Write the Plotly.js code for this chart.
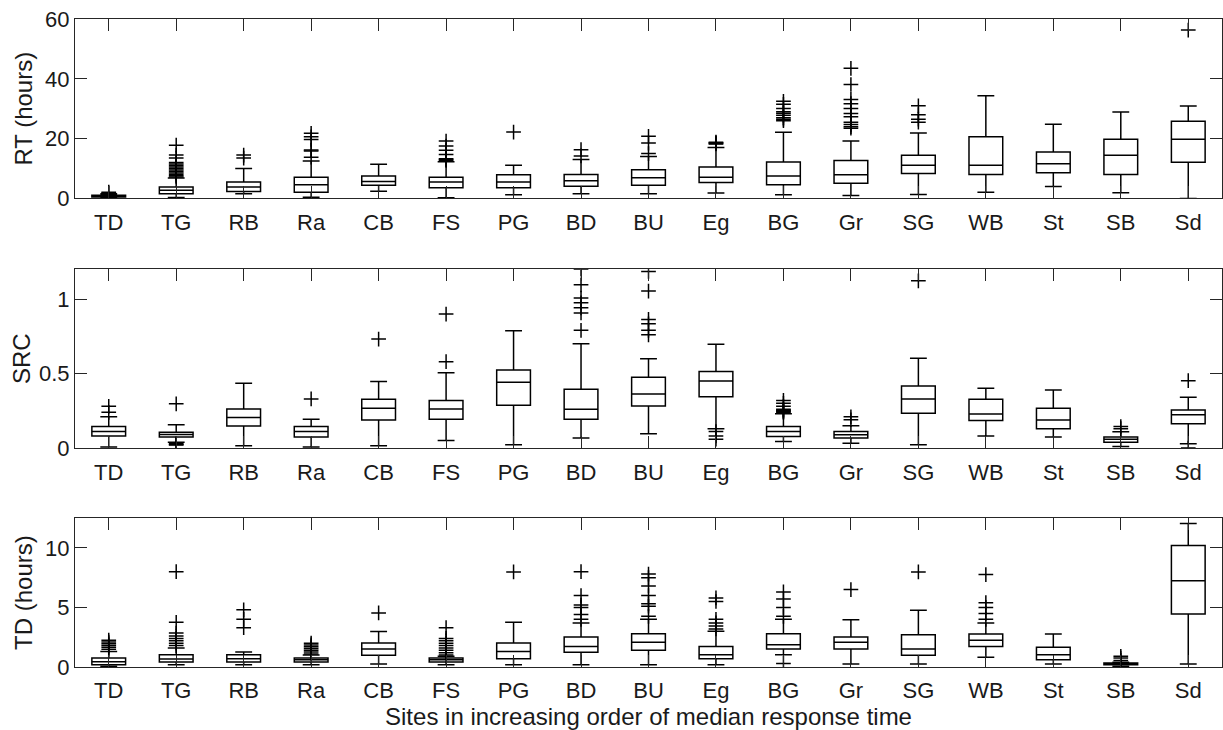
<!DOCTYPE html>
<html>
<head>
<meta charset="utf-8">
<script src="https://cdn.plot.ly/plotly-3.0.1.min.js"></script>
<style>html,body{margin:0;padding:0;background:#fff;}#chart{width:1223px;height:730px;}</style>
</head>
<body>
<div id="chart"></div>
<script>
var sites = ['TD','TG','RB','Ra','CB','FS','PG','BD','BU','Eg','BG','Gr','SG','WB','St','SB','Sd'];

// Panel 1: RT (hours)
var rtLo  = [0.1, 0.3, 1.6, 0.4, 2.4, 0.2, 1.2, 1.6, 1.6, 1.8, 1.2, 1.0, 1.3, 2.1, 4.0, 1.9, 0.0];
var rtQ1  = [0.5, 1.6, 2.3, 2.1, 4.4, 3.6, 3.6, 4.1, 4.4, 5.3, 4.6, 5.1, 8.3, 8.0, 8.6, 8.0, 12.1];
var rtMed = [0.8, 2.7, 3.8, 4.6, 5.7, 5.5, 5.5, 5.9, 6.9, 7.1, 7.5, 7.9, 11.1, 11.1, 11.6, 14.4, 19.8];
var rtQ3  = [1.1, 3.8, 5.5, 7.1, 7.5, 7.1, 7.9, 8.0, 9.6, 10.5, 12.2, 12.7, 14.4, 20.6, 15.5, 19.8, 25.8];
var rtHi  = [1.6, 6.8, 10.0, 12.5, 11.4, 12.3, 11.1, 13.0, 14.0, 17.0, 22.1, 19.2, 21.9, 34.3, 24.8, 28.9, 30.9];
var rtOut = [
  [1.8, 2.1],
  [7.2, 7.6, 8.0, 8.5, 9.0, 9.5, 10.0, 10.5, 11.0, 11.5, 12.0, 13.5, 14.5, 17.8],
  [13.5, 14.5],
  [13.8, 15.9, 16.2, 19.7, 20.6, 21.8],
  [],
  [12.7, 13.0, 13.3, 14.7, 16.1, 17.5, 19.2],
  [22.2],
  [14.2, 16.3],
  [15.0, 18.5, 20.8],
  [18.2, 18.4, 18.6, 18.8],
  [26.0, 26.5, 27.0, 27.8, 28.5, 29.0, 30.1, 31.5, 32.5],
  [23.5, 24.0, 24.7, 25.5, 27.3, 28.4, 30.1, 31.7, 33.1, 38.1, 43.5],
  [25.5, 26.5, 28.0, 31.0],
  [], [], [],
  [56.3]
];

// Panel 2: SRC
var srcLo  = [0.007, 0.04, 0.015, 0.007, 0.015, 0.051, 0.022, 0.067, 0.096, 0.13, 0.044, 0.033, 0.022, 0.082, 0.074, 0.011, 0.03];
var srcQ1  = [0.082, 0.074, 0.149, 0.074, 0.189, 0.194, 0.288, 0.194, 0.283, 0.345, 0.078, 0.067, 0.234, 0.185, 0.129, 0.04, 0.163];
var srcMed = [0.111, 0.091, 0.205, 0.111, 0.268, 0.263, 0.442, 0.261, 0.363, 0.45, 0.111, 0.089, 0.33, 0.228, 0.189, 0.06, 0.223];
var srcQ3  = [0.145, 0.107, 0.263, 0.145, 0.328, 0.319, 0.524, 0.395, 0.475, 0.513, 0.145, 0.111, 0.417, 0.328, 0.268, 0.074, 0.256];
var srcHi  = [0.21, 0.156, 0.435, 0.194, 0.446, 0.506, 0.787, 0.70, 0.6, 0.696, 0.23, 0.15, 0.602, 0.401, 0.39, 0.11, 0.341];
var srcOut = [
  [0.24, 0.28],
  [0.02, 0.025, 0.03, 0.297],
  [],
  [0.33],
  [0.731],
  [0.58, 0.899],
  [],
  [0.79, 0.906, 0.941, 0.975, 1.006, 1.095, 1.2],
  [0.76, 0.79, 0.834, 0.863, 1.053, 1.185],
  [0.06, 0.082, 0.111],
  [0.24, 0.245, 0.25, 0.255, 0.26, 0.28, 0.30, 0.32],
  [0.19, 0.21],
  [1.122],
  [], [],
  [0.13, 0.145],
  [0.0, 0.452]
];

// Panel 3: TD (hours)
var tdLo  = [0.05, 0.19, 0.19, 0.19, 0.25, 0.19, 0.19, 0.19, 0.19, 0.19, 1.03, 0.25, 0.25, 0.81, 0.25, 0.05, 0.25];
var tdQ1  = [0.19, 0.42, 0.42, 0.42, 0.98, 0.42, 0.70, 1.23, 1.40, 0.70, 1.51, 1.51, 0.98, 1.73, 0.61, 0.19, 4.45];
var tdMed = [0.45, 0.67, 0.70, 0.61, 1.51, 0.61, 1.31, 1.73, 2.07, 1.03, 1.87, 2.07, 1.51, 2.24, 1.03, 0.25, 7.25];
var tdQ3  = [0.76, 1.03, 1.03, 0.76, 2.02, 0.76, 2.02, 2.52, 2.80, 1.73, 2.80, 2.52, 2.71, 2.77, 1.65, 0.34, 10.19];
var tdHi  = [1.3, 1.6, 1.26, 1.0, 2.99, 0.9, 3.75, 3.7, 4.0, 3.0, 4.0, 3.97, 4.76, 3.7, 2.77, 0.4, 12.04];
var tdOut = [
  [1.5, 1.65, 1.8, 1.95, 2.1, 2.25],
  [1.8, 2.0, 2.2, 2.4, 2.6, 2.85, 3.75, 8.0],
  [3.3, 4.0, 4.8],
  [1.1, 1.25, 1.4, 1.55, 1.7, 1.85, 2.0],
  [4.54],
  [1.0, 1.2, 1.4, 1.6, 1.8, 2.0, 2.2, 2.4, 3.3],
  [7.98],
  [4.0, 4.4, 5.0, 5.2, 6.0, 8.0],
  [4.25, 5.1, 5.3, 6.0, 6.8, 7.5, 7.8],
  [3.2, 3.45, 3.7, 4.0, 5.5, 5.8],
  [0.3, 4.25, 5.0, 5.7, 6.3],
  [6.5],
  [7.98],
  [4.0, 4.5, 5.0, 5.4, 7.76],
  [],
  [0.55, 0.75, 0.9],
  []
];

var yTitles = ['RT (hours)', 'SRC', 'TD (hours)'];
var xTitle = 'Sites in increasing order of median response time';

var FONT = 'Liberation Sans, Arial, Helvetica, sans-serif';
var INK = '#1a1a1a';
var TICK = 22, TITLE = 24;

function boxTrace(lo, q1, med, q3, hi, ax) {
  return {
    type: 'box', x: sites, lowerfence: lo, q1: q1, median: med, q3: q3, upperfence: hi,
    boxpoints: false, width: 0.5, whiskerwidth: 0.5,
    line: {color: '#000', width: 1.5}, fillcolor: 'rgba(255,255,255,0)',
    xaxis: 'x' + ax, yaxis: 'y' + ax, hoverinfo: 'skip'
  };
}
function outTrace(out, ax) {
  var xs = [], ys = [];
  out.forEach(function (arr, i) { arr.forEach(function (v) { xs.push(sites[i]); ys.push(v); }); });
  return {
    type: 'scatter', mode: 'markers', x: xs, y: ys,
    marker: {symbol: 'cross-thin', size: 10.5, color: '#000', line: {color: '#000', width: 1.5}},
    xaxis: 'x' + ax, yaxis: 'y' + ax, hoverinfo: 'skip'
  };
}

var data = [
  boxTrace(rtLo, rtQ1, rtMed, rtQ3, rtHi, ''), outTrace(rtOut, ''),
  boxTrace(srcLo, srcQ1, srcMed, srcQ3, srcHi, '2'), outTrace(srcOut, '2'),
  boxTrace(tdLo, tdQ1, tdMed, tdQ3, tdHi, '3'), outTrace(tdOut, '3')
];

function xAx(anchor) {
  return {
    anchor: anchor, type: 'category', categoryarray: sites, categoryorder: 'array',
    range: [-0.5, 16.5], domain: [0, 1],
    ticks: 'inside', ticklen: 12, tickwidth: 1, tickcolor: '#262626',
    mirror: 'ticks', showline: true, linecolor: '#262626', linewidth: 1,
    showgrid: false, zeroline: false, automargin: false,
    tickfont: {family: FONT, size: TICK, color: INK}, ticklabelstandoff: 4
  };
}
function yAx(anchor, dom, rng, tv, tt, title, standoff) {
  return {
    anchor: anchor, domain: dom, range: rng, tickvals: tv, ticktext: tt,
    ticks: 'inside', ticklen: 12, tickwidth: 1, tickcolor: '#262626',
    mirror: 'ticks', showline: true, linecolor: '#262626', linewidth: 1,
    showgrid: false, zeroline: false, automargin: false,
    tickfont: {family: FONT, size: TICK, color: INK},
    title: {text: title, font: {family: FONT, size: TITLE, color: INK}, standoff: standoff}
  };
}

var layout = {
  width: 1223, height: 730,
  margin: {l: 75, r: 1, t: 19, b: 63},
  paper_bgcolor: '#fff', plot_bgcolor: '#fff',
  showlegend: false,
  font: {family: FONT, size: TICK, color: INK},
  xaxis: xAx('y'),
  yaxis: yAx('x', [0.7231, 1], [0, 60], [0, 20, 40, 60], ['0', '20', '40', '60'], yTitles[0], 5),
  xaxis2: xAx('y2'),
  yaxis2: yAx('x2', [0.3378, 0.6139], [0, 1.2], [0, 0.5, 1], ['0', '0.5', '1'], yTitles[1], 1),
  xaxis3: Object.assign(xAx('y3'), {title: {text: xTitle, font: {family: FONT, size: TITLE, color: INK}, standoff: 2}}),
  yaxis3: yAx('x3', [0, 0.2298], [0, 12.5], [0, 5, 10], ['0', '5', '10'], yTitles[2], 5)
};

Plotly.newPlot('chart', data, layout, {displayModeBar: false, staticPlot: true});
</script>
</body>
</html>
